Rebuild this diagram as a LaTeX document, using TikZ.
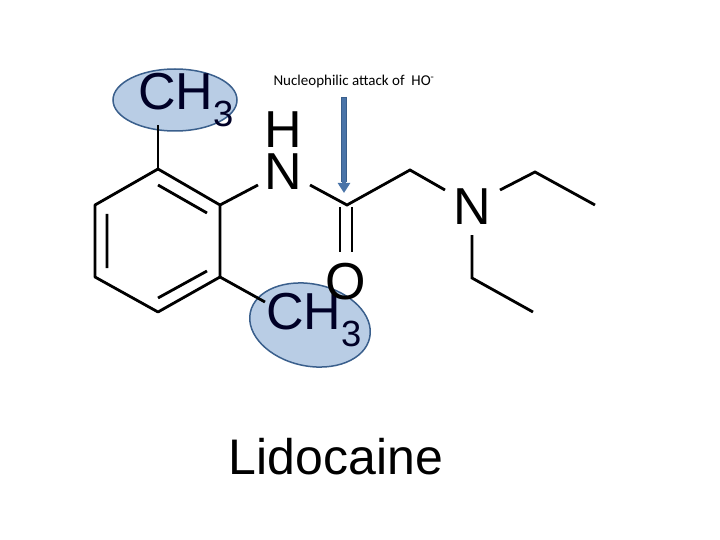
\documentclass[tikz,border=0pt]{standalone}
\usepackage{fontspec}
\setmainfont{Liberation Sans}
\newfontfamily\calib{Carlito}
\usetikzlibrary{shapes.geometric,arrows.meta}
\definecolor{hlfill}{HTML}{B9CDE5}
\definecolor{hldraw}{HTML}{3A5F8C}
\definecolor{arr}{HTML}{4A74A8}
\begin{document}
\begin{tikzpicture}[x=1pt,y=-1pt,
  bond/.style={line width=2.8pt},
  atom/.style={font=\fontsize{52}{52}\selectfont, inner sep=0pt, text=black},
  hl/.style={draw=hldraw, line width=1.5pt, fill=hlfill}]
\useasboundingbox (0,0) rectangle (720,540);
\node[hl, ellipse, minimum width=124, minimum height=62] (e1) at (175,100) {};
\node[hl, ellipse, minimum width=122, minimum height=82, rotate=-12] (e2) at (310,325) {};
\node[atom, text=black!85!blue] (ch3a) at (186,100) {CH\textsubscript{3}};
\node[atom, text=black!85!blue] (ch3b) at (314,320) {CH\textsubscript{3}};
\node[atom] (h) at (283,130) {H};
\node[atom] (n1) at (283,172) {N};
\node[atom] (o) at (346,282) {O};
\node[atom] (n2) at (472,207) {N};
\coordinate (r1) at (158,169); \coordinate (r2) at (220,205);
\coordinate (r3) at (220,277); \coordinate (r4) at (158,312);
\coordinate (r5) at (95,277); \coordinate (r6) at (95,205);
\coordinate (c) at (347,205); \coordinate (ch2) at (410,170);
\draw[bond, line join=round] (r1)--(r2)--(r3)--(r4)--(r5)--(r6)--cycle;
\draw[bond] (158,185)--(207,213) (158,298)--(207,271) (107,214)--(107,268);
\draw[bond] (r1)--(158,125);
\draw[bond] (r3)--(265,302);
\draw[bond] (r2)--(258,185);
\draw[bond] (310,185)--(c)--(ch2)--(445,190);
\draw[bond] (340,207)--(340,252) (352,207)--(352,252);
\draw[bond] (500,190)--(535,172)--(595,205);
\draw[bond] (472,235)--(472,278)--(533,312);
\draw[line width=6pt, draw=hldraw] (344,97)--(344,182);
\draw[line width=4pt, draw=arr, -{Triangle[length=10pt,width=12pt]}] (344,98)--(344,193);
\node[font=\calib\fontsize{15}{15}\selectfont, anchor=west] (t) at (270,82) {Nucleophilic attack of\ \ HO\textsuperscript{-}};
\node[font=\fontsize{50}{50}\selectfont] (lid) at (336,457) {Lidocaine};
\end{tikzpicture}
\end{document}
